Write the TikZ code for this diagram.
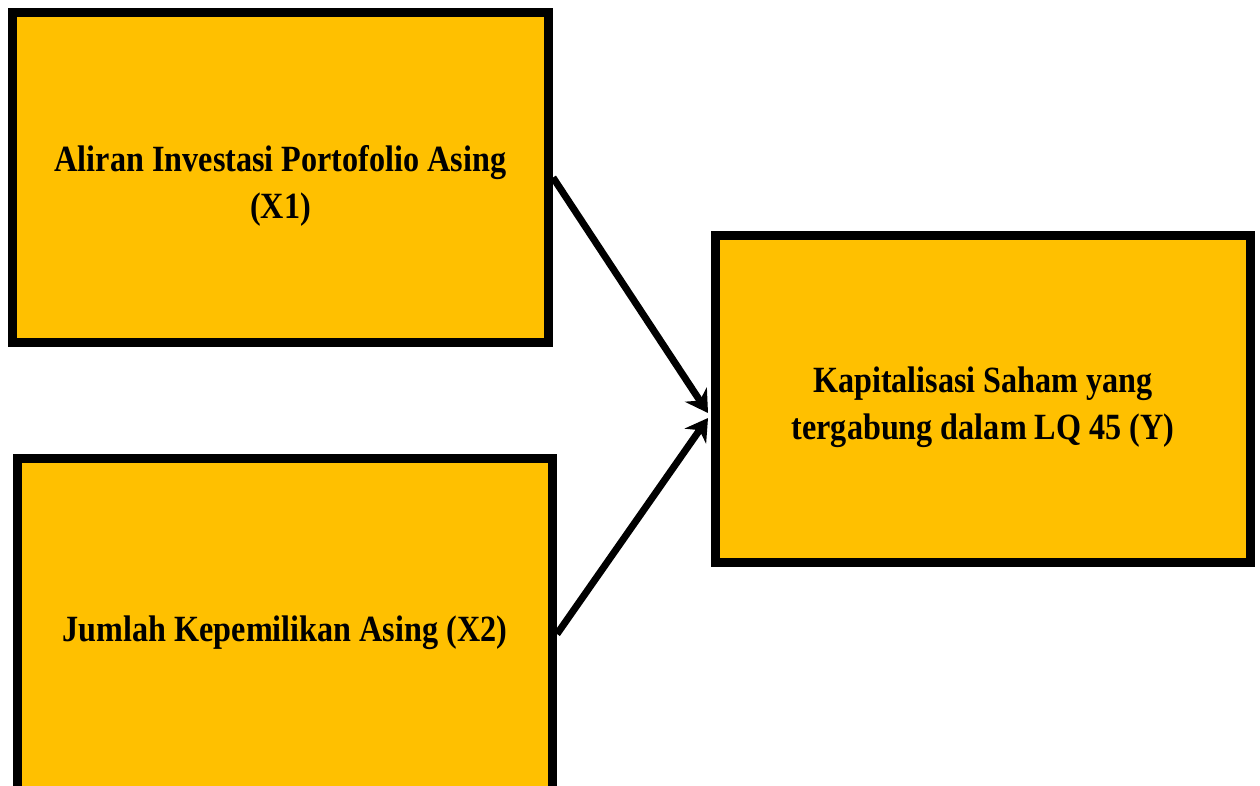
\documentclass[tikz,border=0pt]{standalone}
\usepackage{fontspec}
\setmainfont{Liberation Serif}[FakeStretch=0.87]
\usetikzlibrary{calc,arrows.meta}
\definecolor{boxfill}{HTML}{FFC000}
\newcommand{\boxtext}[1]{\raisebox{-8pt}[\height][\depth]{\begin{tabular}{@{}c@{}}#1\end{tabular}}}
\tikzset{
  varbox/.style={draw=black, fill=boxfill, line width=9pt, rectangle,
    inner sep=0pt, font=\fontsize{37}{47}\selectfont\bfseries},
  link/.style={line width=7pt, -{Stealth[length=22pt,width=26pt]}}
}
\begin{document}
\begin{tikzpicture}[x=1pt,y=-1pt]
\useasboundingbox (0,0) rectangle (1260,785);
\node[varbox, minimum width=536pt, minimum height=330pt] (b1) at (280.5,177.5)
  {\boxtext{Aliran Investasi Portofolio Asing\\(X1)}};
\node[varbox, minimum width=535pt, minimum height=332pt] (b2) at (285,624)
  {\boxtext{Jumlah Kepemilikan Asing (X2)}};
\node[varbox, minimum width=535pt, minimum height=327pt] (b3) at (983,399)
  {\boxtext{Kapitalisasi Saham yang\\tergabung dalam LQ 45 (Y)}};
\coordinate (t1) at ($(b3.west)+(-3,14)$);
\coordinate (t2) at ($(b3.west)+(-3,19)$);
\coordinate (s2) at ($(b2.east)+(0,10)$);
\draw[link] (b1.east) -- (t1);
\draw[link] (s2) -- (t2);
\end{tikzpicture}
\end{document}
